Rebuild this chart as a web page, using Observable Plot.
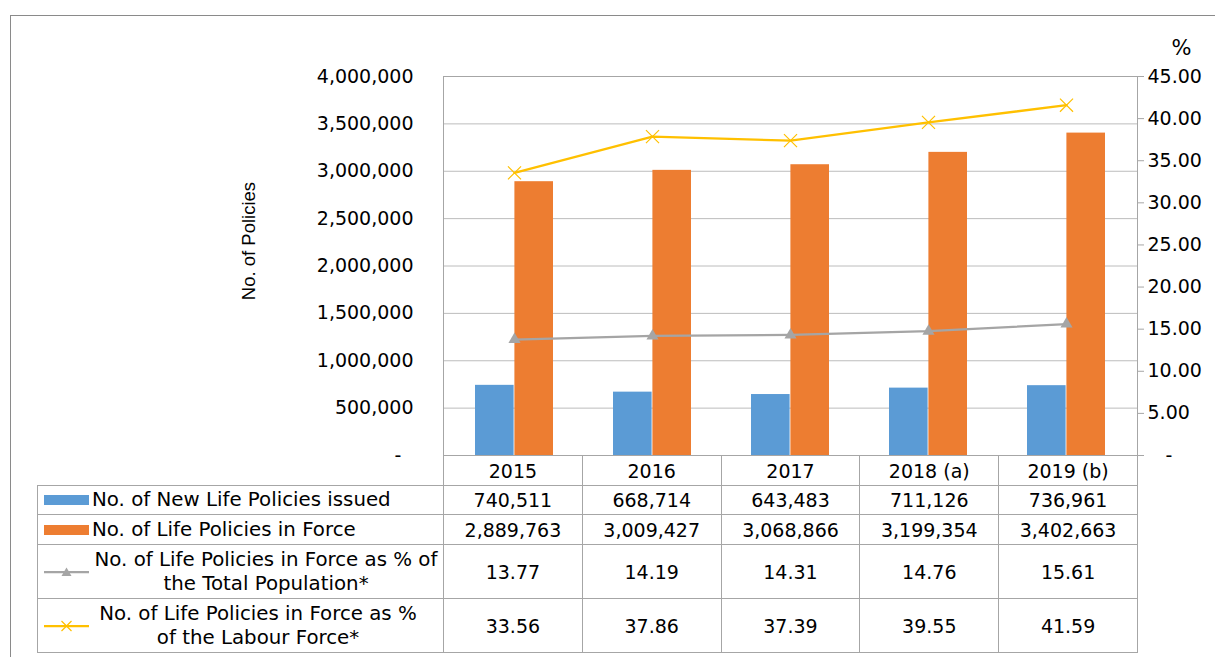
<!DOCTYPE html>
<html><head><meta charset="utf-8">
<script src="https://cdn.jsdelivr.net/npm/d3@7"></script>
<script src="https://cdn.jsdelivr.net/npm/@observablehq/plot@0.6"></script>
<style>
html,body{margin:0;padding:0;background:#fff;}
#wrap{position:relative;width:1215px;height:657px;overflow:hidden;font-family:"DejaVu Sans",sans-serif;}
#frame{position:absolute;left:10px;top:15px;width:1400px;height:900px;border:1px solid #8a8a8a;box-sizing:border-box;}
#chart{position:absolute;left:0;top:0;}
#tbl{position:absolute;left:37px;top:455px;border-collapse:collapse;table-layout:fixed;font-size:19px;color:#000;width:1100px;}
#tbl td{border:1px solid #a6a6a6;padding:0;text-align:center;vertical-align:middle;white-space:pre-line;line-height:24px;overflow:hidden;}
#tbl td.blank{border-top:none;border-left:none;}
.lab{display:flex;align-items:center;padding-left:6px;}
.lab svg{flex:none;}
.lab span{margin-left:3px;text-align:left;white-space:pre-line;font-size:19.8px;}
.lab.c span{flex:1;text-align:center;margin-left:0px;}
.lab.c.r4 span{padding-right:16px;}
</style>
</head><body>
<div id="wrap">
  <div id="frame"></div>
  <div id="chart"></div>
  <table id="tbl"></table>
</div>
<script>
// ---- data ----
const years = ["2015", "2016", "2017", "2018 (a)", "2019 (b)"];
const newPolicies = [740511, 668714, 643483, 711126, 736961];
const inForce = [2889763, 3009427, 3068866, 3199354, 3402663];
const pctPopulation = [13.77, 14.19, 14.31, 14.76, 15.61];
const pctLabour = [33.56, 37.86, 37.39, 39.55, 41.59];
const leftTicks = [0, 500000, 1000000, 1500000, 2000000, 2500000, 3000000, 3500000, 4000000];
const rightTicks = [0, 5, 10, 15, 20, 25, 30, 35, 40, 45];
const seriesLabels = [
  "No. of New Life Policies issued",
  "No. of Life Policies in Force",
  "No. of Life Policies in Force as % of\nthe Total Population*",
  "No. of Life Policies in Force as %\nof the Labour Force*"
];
const yTitle = "No. of Policies";
const pctTitle = "%";

// ---- styles / layout ----
const C = {newP: "#5b9bd5", force: "#ed7d31", pop: "#a5a5a5", lab: "#ffc000"};
const W = 1215, L = 443, R = 1137, T = 76, B = 455;
const yMax = 4000000, pMax = 45, k = yMax / pMax;
const bw = (R - L) / years.length, barW = 39.4;

const rows = years.map((y, i) => ({
  year: y, newP: newPolicies[i], force: inForce[i],
  pop: pctPopulation[i] * k, lab: pctLabour[i] * k
}));

const fmtInt = d3.format(",");
const fmtPct = d3.format(".2f");

const chart = Plot.plot({
  width: W, height: B + 2,
  marginLeft: L, marginRight: W - R, marginTop: T, marginBottom: 2,
  x: {type: "band", domain: years, padding: 0, axis: null},
  y: {domain: [0, yMax], axis: null, label: null},
  style: {fontFamily: "DejaVu Sans", fontSize: "19px", color: "#000", background: "transparent", overflow: "visible"},
  marks: [
    Plot.gridY(leftTicks, {stroke: "#bcbcbc", strokeOpacity: 1, strokeWidth: 1}),
    Plot.frame({stroke: "#a6a6a6"}),
    Plot.axisY(leftTicks, {anchor: "left", tickSize: 0, tickPadding: 30, label: null, fontSize: 19,
      tickFormat: d => d === 0 ? "-\u00a0\u00a0" : fmtInt(d)}),
    Plot.axisY(rightTicks.map(v => v * k), {anchor: "right", tickSize: 6, tickPadding: 4, label: null, fontSize: 19,
      stroke: "#a6a6a6", fill: "#000",
      tickFormat: d => { const v = Math.round(d / k * 100) / 100; return v === 0 ? "\u00a0\u00a0\u00a0-" : fmtPct(v); }}),
    Plot.barY(rows, {x: "year", y: "newP", fill: C.newP, insetLeft: bw / 2 - barW, insetRight: bw / 2}),
    Plot.barY(rows, {x: "year", y: "force", fill: C.force, insetLeft: bw / 2, insetRight: bw / 2 - barW}),
    Plot.line(rows, {x: "year", y: "pop", stroke: C.pop, strokeWidth: 2.25}),
    Plot.dot(rows, {x: "year", y: "pop", symbol: "triangle", r: 4.5, fill: C.pop, stroke: null}),
    Plot.line(rows, {x: "year", y: "lab", stroke: C.lab, strokeWidth: 2.25}),
    Plot.dot(rows, {x: "year", y: "lab", symbol: "times", r: 6, stroke: C.lab, strokeWidth: 1.2, fill: "none"}),
    Plot.text([pctTitle], {frameAnchor: "top-right", dx: 44, dy: -28, textAnchor: "middle", lineAnchor: "middle", fontSize: 21, fill: "#000"}),
    Plot.text([yTitle], {frameAnchor: "left", dx: -194, dy: -25, rotate: -90, textAnchor: "middle", lineAnchor: "middle", fontFamily: "Liberation Sans", fontSize: 18.5, fill: "#000"})
  ]
});
document.getElementById("chart").appendChild(chart);

// ---- data table ----
const keySvg = [
  `<svg width="45" height="12"><rect x="0" y="1" width="45" height="10" fill="${C.newP}"/></svg>`,
  `<svg width="45" height="12"><rect x="0" y="1" width="45" height="10" fill="${C.force}"/></svg>`,
  `<svg width="45" height="12"><line x1="0" x2="45" y1="6" y2="6" stroke="${C.pop}" stroke-width="2.25"/><path d="M22.5,1.5L27.5,10L17.5,10Z" fill="${C.pop}"/></svg>`,
  `<svg width="45" height="14"><line x1="0" x2="45" y1="7" y2="7" stroke="${C.lab}" stroke-width="2.25"/><path d="M17.5,2L27.5,12M27.5,2L17.5,12" stroke="${C.lab}" stroke-width="1.2"/></svg>`
];
const series = [newPolicies.map(fmtInt), inForce.map(fmtInt), pctPopulation.map(fmtPct), pctLabour.map(fmtPct)];
const rowH = [29, 30, 54, 54];
let html = `<colgroup><col style="width:406px">${years.map(() => `<col style="width:${bw}px">`).join("")}</colgroup>`;
html += `<tr style="height:30px"><td class="blank"></td>${years.map(y => `<td>${y}</td>`).join("")}</tr>`;
series.forEach((vals, i) => {
  const cls = i >= 2 ? " c" + (i === 3 ? " r4" : "") : "";
  html += `<tr style="height:${rowH[i]}px"><td><div class="lab${cls}">${keySvg[i]}<span>${seriesLabels[i]}</span></div></td>${vals.map(v => `<td>${v}</td>`).join("")}</tr>`;
});
document.getElementById("tbl").innerHTML = html;
</script>
</body></html>
